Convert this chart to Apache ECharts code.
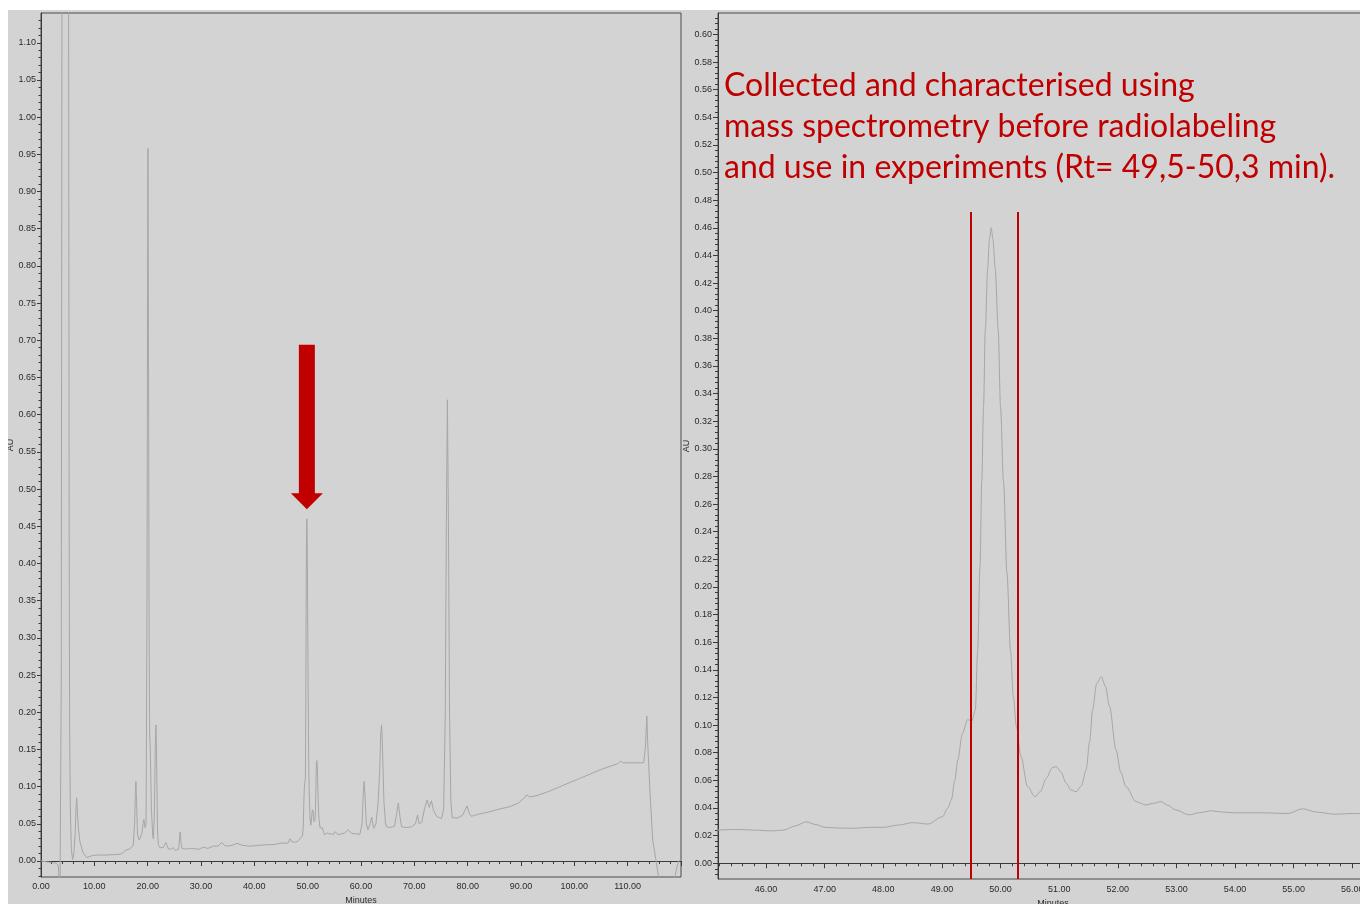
<!DOCTYPE html>
<html>
<head>
<meta charset="utf-8">
<script src="https://cdn.jsdelivr.net/npm/echarts@6/dist/echarts.min.js"></script>
<style>
  html, body { margin: 0; padding: 0; background: #ffffff; width: 1360px; height: 904px; overflow: hidden; }
  #chart { position: absolute; left: 8px; top: 10px; width: 1420px; height: 930px; background: #d3d3d3; }
</style>
</head>
<body>
<div id="chart"></div>
<script>
// HPLC trace, [retention time (min), absorbance (AU)]
const solventFront = [
  [0.0, 0.000], [1.0, -0.001], [2.0, -0.002], [2.9, -0.003], [3.25, -0.006], [3.45, -0.035],
  [3.58, -0.03], [3.64, 0.052], [3.8, 0.246], [3.95, 1.3], [4.2, 2.5], [4.9, 2.5], [5.15, 1.3],
  [5.28, 0.45], [5.37, 0.18], [5.5, 0.07], [5.7, 0.015], [5.93, 0.002], [6.15, 0.01], [6.4, 0.035],
  [6.58, 0.072], [6.68, 0.085], [6.8, 0.07], [7.0, 0.045], [7.3, 0.026], [7.9, 0.011], [8.55, 0.0045],
  [9.5, 0.007]
];
const earlyPeaks = [
  [10.5, 0.008], [12.0, 0.008], [13.5, 0.0085], [14.8, 0.009], [15.4, 0.011], [15.7, 0.014],
  [16.0, 0.012], [16.6, 0.016], [17.0, 0.0185], [17.3, 0.0215], [17.55, 0.05], [17.7, 0.095],
  [17.8, 0.107], [17.92, 0.08], [18.1, 0.035], [18.4, 0.028], [18.9, 0.037], [19.15, 0.05],
  [19.3, 0.056], [19.5, 0.045], [19.7, 0.05], [19.85, 0.3], [19.97, 0.75], [20.05, 0.958],
  [20.13, 0.75], [20.25, 0.35], [20.38, 0.17], [20.5, 0.15], [20.7, 0.07], [20.95, 0.035],
  [21.05, 0.03], [21.25, 0.06], [21.42, 0.15], [21.55, 0.183], [21.67, 0.14], [21.85, 0.04],
  [22.0, 0.022], [22.3, 0.018], [22.9, 0.018], [23.4, 0.025], [23.9, 0.016], [24.4, 0.016],
  [24.8, 0.018], [25.2, 0.014], [25.8, 0.016], [26.0, 0.032], [26.1, 0.039], [26.25, 0.025],
  [26.45, 0.017], [27.3, 0.016], [28.2, 0.017], [29.2, 0.016], [29.8, 0.016]
];
const midBaseline = [
  [30.4, 0.0185], [31.3, 0.017], [32.3, 0.020], [33.2, 0.020], [33.9, 0.025], [34.4, 0.021],
  [34.8, 0.020], [35.8, 0.021], [36.8, 0.0237], [37.8, 0.021], [39.2, 0.020], [40.8, 0.021],
  [42.3, 0.0219], [43.5, 0.022], [44.8, 0.0237], [45.2, 0.0241], [45.5, 0.0245], [45.8, 0.024],
  [46.1, 0.0234], [46.3, 0.024], [46.5, 0.027], [46.68, 0.030], [46.85, 0.028], [47.0, 0.026],
  [47.25, 0.0255], [47.5, 0.0253], [47.75, 0.026], [48.0, 0.026], [48.27, 0.0277], [48.5, 0.0294],
  [48.76, 0.0284]
];
const targetRegion = [
  [49.01, 0.0337], [49.1, 0.040], [49.16, 0.0458], [49.22, 0.060], [49.27, 0.0748], [49.35, 0.094],
  [49.44, 0.104], [49.51, 0.103], [49.57, 0.111], [49.61, 0.154], [49.65, 0.215], [49.68, 0.277],
  [49.71, 0.33], [49.74, 0.386], [49.78, 0.43], [49.81, 0.452], [49.84, 0.46], [49.87, 0.452],
  [49.91, 0.43], [49.96, 0.386], [50.0, 0.33], [50.05, 0.277], [50.11, 0.21], [50.17, 0.154],
  [50.22, 0.12], [50.27, 0.099], [50.35, 0.077], [50.46, 0.0555], [50.59, 0.048], [50.68, 0.052],
  [50.78, 0.0615], [50.88, 0.069], [50.95, 0.070], [51.03, 0.066], [51.12, 0.058], [51.2, 0.053],
  [51.29, 0.0518], [51.38, 0.056], [51.46, 0.0675], [51.52, 0.088], [51.57, 0.111], [51.64, 0.130],
  [51.72, 0.135], [51.79, 0.128], [51.86, 0.1134], [51.97, 0.082], [52.05, 0.066], [52.14, 0.0555],
  [52.31, 0.0446], [52.48, 0.0422], [52.62, 0.0435], [52.74, 0.0446], [52.85, 0.042], [52.99, 0.0386],
  [53.22, 0.035], [53.39, 0.0366], [53.6, 0.038], [53.8, 0.037], [54.0, 0.0365], [54.5, 0.0365],
  [54.9, 0.036], [55.15, 0.0394], [55.4, 0.037], [55.7, 0.0355], [56.0, 0.036]
];
const latePeaks = [
  [56.2, 0.036], [57.0, 0.038], [57.6, 0.042], [58.3, 0.037], [59.8, 0.036], [60.2, 0.05],
  [60.45, 0.095], [60.6, 0.107], [60.8, 0.08], [61.0, 0.05], [61.3, 0.042], [61.7, 0.05],
  [62.0, 0.059], [62.2, 0.05], [62.4, 0.044], [62.8, 0.05], [63.2, 0.078], [63.5, 0.12],
  [63.7, 0.17], [63.85, 0.183], [64.0, 0.16], [64.3, 0.08], [64.6, 0.05], [64.8, 0.046],
  [65.5, 0.045], [66.3, 0.047], [66.7, 0.065], [67.0, 0.078], [67.3, 0.06], [67.6, 0.046],
  [68.5, 0.045], [69.5, 0.046], [70.2, 0.05], [70.6, 0.062], [70.9, 0.05], [71.4, 0.052],
  [71.9, 0.07], [72.4, 0.082], [72.8, 0.072], [73.2, 0.081], [73.6, 0.068], [74.2, 0.06],
  [75.1, 0.057], [75.5, 0.07], [75.8, 0.2], [76.0, 0.45], [76.2, 0.62], [76.4, 0.45],
  [76.6, 0.2], [76.85, 0.08], [77.1, 0.058], [77.3, 0.056], [78.2, 0.058], [79.1, 0.062],
  [79.6, 0.07], [79.9, 0.074], [80.3, 0.064], [80.7, 0.06]
];
const gradientTail = [
  [82.0, 0.063], [84.0, 0.066], [86.0, 0.070], [87.9, 0.073], [89.5, 0.078], [90.5, 0.084],
  [91.1, 0.089], [91.6, 0.086], [93.0, 0.088], [95.0, 0.093], [97.0, 0.099], [99.0, 0.105],
  [101.0, 0.111], [103.0, 0.117], [105.0, 0.123], [107.0, 0.128], [108.2, 0.131], [108.6, 0.134],
  [109.2, 0.132], [111.0, 0.132], [113.0, 0.132], [113.3, 0.15], [113.6, 0.195], [113.75, 0.16],
  [114.2, 0.09], [114.7, 0.028], [115.8, -0.021], [116.3, -0.04], [118.5, -0.04], [118.9, -0.02],
  [119.3, -0.006], [119.6, 0.0], [120.0, 0.002]
];

// axis tick labels
const fullAuTicks = [0, 0.05, 0.10, 0.15, 0.20, 0.25, 0.30, 0.35, 0.40, 0.45, 0.50, 0.55,
  0.60, 0.65, 0.70, 0.75, 0.80, 0.85, 0.90, 0.95, 1.00, 1.05, 1.10];
const zoomTimeTicks = [46, 47, 48, 49, 50, 51, 52, 53, 54, 55, 56];
const zoomAuTicks = [0, 0.02, 0.04, 0.06, 0.08, 0.10, 0.12, 0.14, 0.16, 0.18, 0.20, 0.22, 0.24,
  0.26, 0.28, 0.30, 0.32, 0.34, 0.36, 0.38, 0.40, 0.42, 0.44, 0.46, 0.48, 0.50, 0.52, 0.54,
  0.56, 0.58, 0.60];

// collected fraction window (min) and annotation
const fractionWindow = [49.5, 50.3];
const fractionLineTop = 0.4714;
const noteLines = [
  'Collected and characterised using',
  'mass spectrometry before radiolabeling',
  'and use in experiments (Rt= 49,5-50,3 min).'
];
// arrow pointing at the product peak on the full run, data coordinates
const arrowTail = [49.85, 0.694];
const arrowTip = [49.85, 0.473];

const trace = [].concat(solventFront, earlyPeaks, midBaseline, targetRegion, latePeaks, gradientTail);

const fullRange = { tMin: 0, tMax: 120, auMin: -0.0215, auMax: 1.14 };
const zoomRange = { tMin: 45.18, tMax: 56.61, auMin: -0.0114, auMax: 0.6155 };

function steps(from, to, step) {
  const out = [];
  const n = Math.round((to - from) / step);
  for (let i = 0; i <= n; i++) out.push(+(from + i * step).toFixed(4));
  return out;
}

const INK = '#2a2a2a';
const labelFont = { color: INK, fontSize: 9, fontFamily: 'Liberation Sans, Arial, sans-serif' };
const axisLine = { show: true, lineStyle: { color: '#3a3a3a', width: 1 } };
const tickLine = { color: '#3a3a3a', width: 1 };
const fmt = v => Number(v).toFixed(2);

const chart = echarts.init(document.getElementById('chart'), null, { renderer: 'canvas' });

const gridBase = {
  show: true, borderColor: '#4a4a4a', borderWidth: 1, backgroundColor: 'transparent',
  containLabel: false, outerBoundsMode: 'none'
};

const option = {
  animation: false,
  backgroundColor: '#d3d3d3',
  grid: [
    Object.assign({ left: 33, top: 3, width: 640, height: 864 }, gridBase),
    Object.assign({ left: 710, top: 3, width: 670, height: 866 }, gridBase)
  ],
  xAxis: [
    {
      gridIndex: 0, type: 'value', position: 'bottom', min: fullRange.tMin, max: fullRange.tMax, interval: 10,
      axisLine, splitLine: { show: false },
      axisTick: { show: true, length: 5, lineStyle: tickLine },
      minorTick: { show: true, splitNumber: 5, length: 3, lineStyle: tickLine },
      axisLabel: Object.assign({ margin: 5, formatter: fmt, showMaxLabel: false }, labelFont),
      name: 'Minutes', nameLocation: 'middle', nameGap: 17,
      nameTextStyle: labelFont
    },
    {
      gridIndex: 1, type: 'value', position: 'bottom', min: zoomRange.tMin, max: zoomRange.tMax,
      axisLine, splitLine: { show: false },
      axisTick: { show: true, length: 5, customValues: zoomTimeTicks, lineStyle: tickLine },
      axisLabel: Object.assign({ margin: 6, formatter: fmt, customValues: zoomTimeTicks }, labelFont),
      name: 'Minutes', nameLocation: 'middle', nameGap: 19,
      nameTextStyle: labelFont
    },
    {
      gridIndex: 1, type: 'value', position: 'bottom', offset: 0, min: zoomRange.tMin, max: zoomRange.tMax,
      axisLine: { show: false }, splitLine: { show: false },
      axisTick: { show: true, length: 3, customValues: steps(45.2, 56.6, 0.2), lineStyle: tickLine },
      axisLabel: { show: false }
    }
  ],
  yAxis: [
    {
      gridIndex: 0, type: 'value', position: 'left', min: fullRange.auMin, max: fullRange.auMax,
      axisLine, splitLine: { show: false },
      axisTick: { show: true, length: 4, customValues: fullAuTicks, lineStyle: tickLine },
      axisLabel: Object.assign({ margin: 5, formatter: fmt, customValues: fullAuTicks }, labelFont),
      name: 'AU', nameLocation: 'middle', nameGap: 26, nameTextStyle: labelFont
    },
    {
      gridIndex: 0, type: 'value', position: 'left', offset: 0, min: fullRange.auMin, max: fullRange.auMax,
      axisLine: { show: false }, splitLine: { show: false },
      axisTick: { show: true, length: 2.5, customValues: steps(-0.02, 1.13, 0.01), lineStyle: tickLine },
      axisLabel: { show: false }
    },
    {
      gridIndex: 1, type: 'value', position: 'left', min: zoomRange.auMin, max: zoomRange.auMax,
      axisLine, splitLine: { show: false },
      axisTick: { show: true, length: 5, customValues: zoomAuTicks, lineStyle: tickLine },
      axisLabel: Object.assign({ margin: 6, formatter: fmt, customValues: zoomAuTicks }, labelFont),
      name: 'AU', nameLocation: 'middle', nameGap: 23, nameTextStyle: labelFont
    },
    {
      gridIndex: 1, type: 'value', position: 'left', offset: 0, min: zoomRange.auMin, max: zoomRange.auMax,
      axisLine: { show: false }, splitLine: { show: false },
      axisTick: { show: true, length: 3, customValues: steps(-0.008, 0.612, 0.004), lineStyle: tickLine },
      axisLabel: { show: false }
    }
  ],
  series: [
    {
      name: 'full run', type: 'line', xAxisIndex: 0, yAxisIndex: 0,
      data: trace, showSymbol: false, symbol: 'none', clip: true,
      lineStyle: { color: '#a6a6a6', width: 1 }
    },
    {
      name: 'product window', type: 'line', xAxisIndex: 1, yAxisIndex: 2,
      data: trace, showSymbol: false, symbol: 'none', clip: true,
      smooth: 0.3, smoothMonotone: 'x',
      lineStyle: { color: '#a6a6a6', width: 1 },
      markLine: {
        silent: true, symbol: ['none', 'none'],
        label: { show: false },
        lineStyle: { color: '#c00000', width: 2, type: 'solid' },
        data: fractionWindow.map(t => [
          { coord: [t, fractionLineTop] },
          { coord: [t, zoomRange.auMin] }
        ])
      }
    }
  ]
};

chart.setOption(option);

// arrow and annotation, placed from data coordinates
const tail = chart.convertToPixel({ gridIndex: 0 }, arrowTail);
const tip = chart.convertToPixel({ gridIndex: 0 }, arrowTip);
const shaftHalf = 8, headHalf = 16, headLen = 16;
const headBase = tip[1] - headLen;
chart.setOption({
  graphic: [
    {
      type: 'polygon', z: 100,
      shape: {
        points: [
          [tail[0] - shaftHalf, tail[1]], [tail[0] + shaftHalf, tail[1]],
          [tail[0] + shaftHalf, headBase], [tip[0] + headHalf, headBase],
          [tip[0], tip[1]], [tip[0] - headHalf, headBase],
          [tail[0] - shaftHalf, headBase]
        ]
      },
      style: { fill: '#c00000' }
    },
    {
      type: 'text', z: 100, left: 716, top: 55,
      style: {
        text: noteLines.join('\n'),
        fill: '#c00000',
        font: '32px Lato, "Open Sans", sans-serif',
        lineHeight: 41
      }
    }
  ]
});
</script>
</body>
</html>
